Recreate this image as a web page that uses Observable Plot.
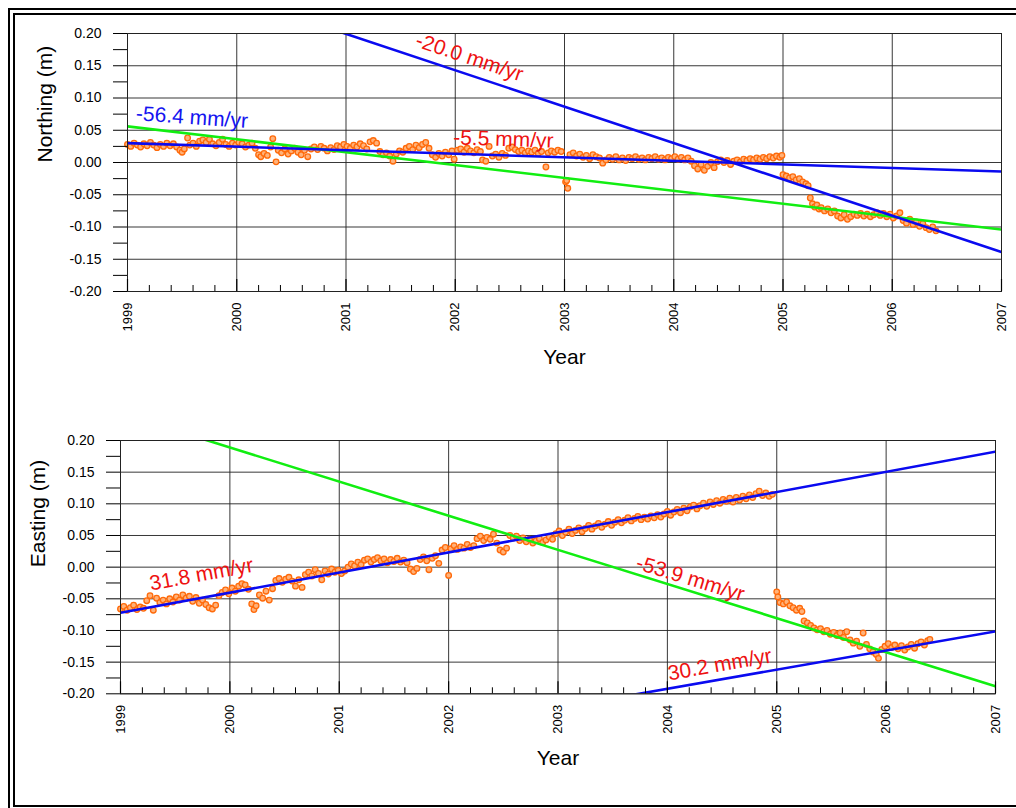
<!DOCTYPE html>
<html>
<head>
<meta charset="utf-8">
<script src="https://cdn.jsdelivr.net/npm/d3@7"></script>
<script src="https://cdn.jsdelivr.net/npm/@observablehq/plot@0.6"></script>
<style>
  body { margin: 0; background: #fff; }
  #page { position: relative; width: 1016px; height: 808px; overflow: hidden; background: #fff;
          font-family: "Liberation Sans", Arial, Helvetica, sans-serif; }
  .rule { position: absolute; box-sizing: border-box; border: 2.5px solid #000; }
  #page svg { position: absolute; left: 0; }
</style>
</head>
<body>
<div id="page">
  <div class="rule" style="left:8px;top:8px;width:1100px;height:900px"></div>
  <div class="rule" style="left:12.5px;top:12.5px;width:1100px;height:794px"></div>
</div>
<script>
// Axis ticks
const years = [1999, 2000, 2001, 2002, 2003, 2004, 2005, 2006, 2007];
const valueTicks = [-0.20, -0.15, -0.10, -0.05, 0.00, 0.05, 0.10, 0.15, 0.20];
const valueMinorTicks = [-0.175, -0.125, -0.075, -0.025, 0.025, 0.075, 0.125, 0.175];
const yearFractions = [0.2, 0.4, 0.6, 0.8];

// GPS daily positions: [decimal year, metres]
const northing = [
  [1999.00,0.028],[1999.03,0.025],[1999.06,0.030],[1999.09,0.027],[1999.12,0.024],[1999.15,0.029],
  [1999.18,0.026],[1999.21,0.031],[1999.24,0.027],[1999.27,0.023],[1999.30,0.028],[1999.33,0.025],
  [1999.36,0.030],[1999.39,0.026],[1999.42,0.029],[1999.45,0.024],[1999.48,0.019],[1999.50,0.016],
  [1999.52,0.021],[1999.55,0.038],[1999.57,0.027],[1999.60,0.030],[1999.63,0.025],[1999.66,0.033],
  [1999.69,0.035],[1999.72,0.031],[1999.75,0.036],[1999.78,0.029],[1999.81,0.026],[1999.84,0.031],
  [1999.87,0.036],[1999.90,0.028],[1999.93,0.025],[1999.96,0.030],[1999.99,0.027],[2000.02,0.031],
  [2000.05,0.029],[2000.08,0.024],[2000.11,0.027],[2000.14,0.030],[2000.17,0.022],[2000.20,0.012],
  [2000.22,0.009],[2000.25,0.014],[2000.28,0.011],[2000.31,0.024],[2000.33,0.037],[2000.36,0.001],
  [2000.38,0.019],[2000.41,0.015],[2000.44,0.021],[2000.47,0.013],[2000.50,0.018],[2000.53,0.022],
  [2000.56,0.016],[2000.59,0.012],[2000.62,0.019],[2000.65,0.009],[2000.68,0.021],[2000.71,0.024],
  [2000.74,0.020],[2000.77,0.025],[2000.80,0.022],[2000.83,0.018],[2000.86,0.023],[2000.89,0.020],
  [2000.92,0.026],[2000.95,0.024],[2000.98,0.028],[2001.01,0.025],[2001.04,0.022],[2001.07,0.027],
  [2001.10,0.024],[2001.13,0.029],[2001.16,0.026],[2001.19,0.021],[2001.22,0.032],[2001.25,0.034],
  [2001.28,0.030],[2001.31,0.017],[2001.34,0.012],[2001.37,0.015],[2001.40,0.010],[2001.43,0.002],
  [2001.46,0.013],[2001.49,0.018],[2001.52,0.016],[2001.55,0.022],[2001.58,0.025],[2001.61,0.020],
  [2001.64,0.027],[2001.67,0.023],[2001.70,0.028],[2001.73,0.031],[2001.76,0.022],[2001.79,0.012],
  [2001.82,0.008],[2001.85,0.014],[2001.88,0.010],[2001.91,0.016],[2001.94,0.012],[2001.97,0.018],
  [2001.99,0.005],[2002.02,0.019],[2002.05,0.021],[2002.08,0.016],[2002.11,0.022],[2002.14,0.018],
  [2002.17,0.015],[2002.20,0.020],[2002.23,0.017],[2002.25,0.004],[2002.28,0.002],[2002.31,0.025],
  [2002.34,0.010],[2002.37,0.013],[2002.40,0.008],[2002.43,0.014],[2002.46,0.011],[2002.49,0.022],
  [2002.52,0.024],[2002.55,0.020],[2002.58,0.017],[2002.61,0.019],[2002.64,0.015],[2002.67,0.018],
  [2002.70,0.016],[2002.73,0.019],[2002.76,0.014],[2002.79,0.017],[2002.83,-0.007],[2002.85,0.015],
  [2002.88,0.018],[2002.91,0.016],[2002.94,0.019],[2002.97,0.017],[2003.01,-0.030],[2003.02,-0.028],
  [2003.03,-0.040],[2003.05,0.012],[2003.08,0.015],[2003.11,0.010],[2003.14,0.013],[2003.17,0.008],
  [2003.20,0.011],[2003.23,0.006],[2003.26,0.012],[2003.29,0.009],[2003.32,0.007],[2003.35,-0.001],
  [2003.38,0.004],[2003.41,0.008],[2003.44,0.005],[2003.47,0.009],[2003.50,0.004],[2003.53,0.007],
  [2003.56,0.003],[2003.59,0.008],[2003.62,0.006],[2003.65,0.009],[2003.68,0.005],[2003.71,0.007],
  [2003.74,0.004],[2003.77,0.008],[2003.80,0.006],[2003.83,0.009],[2003.86,0.005],[2003.89,0.007],
  [2003.92,0.004],[2003.95,0.008],[2003.98,0.006],[2004.01,0.009],[2004.04,0.005],[2004.07,0.008],
  [2004.10,0.004],[2004.13,0.007],[2004.16,0.002],[2004.19,-0.005],[2004.22,-0.010],[2004.25,-0.003],
  [2004.28,-0.012],[2004.31,-0.006],[2004.34,0.000],[2004.37,-0.008],[2004.40,0.001],[2004.43,0.004],
  [2004.46,0.000],[2004.49,0.003],[2004.52,-0.003],[2004.55,0.002],[2004.58,0.004],[2004.61,0.001],
  [2004.64,0.005],[2004.67,0.003],[2004.70,0.006],[2004.73,0.004],[2004.76,0.007],[2004.79,0.005],
  [2004.82,0.008],[2004.85,0.006],[2004.88,0.009],[2004.91,0.007],[2004.94,0.010],[2004.97,0.008],
  [2004.99,0.011],[2005.00,-0.019],[2005.03,-0.021],[2005.06,-0.024],[2005.09,-0.022],[2005.12,-0.027],
  [2005.15,-0.025],[2005.18,-0.030],[2005.21,-0.033],[2005.23,-0.036],[2005.25,-0.055],[2005.27,-0.064],
  [2005.29,-0.069],[2005.31,-0.066],[2005.33,-0.072],[2005.35,-0.070],[2005.38,-0.075],[2005.41,-0.072],
  [2005.44,-0.078],[2005.47,-0.075],[2005.50,-0.083],[2005.53,-0.086],[2005.56,-0.081],[2005.59,-0.088],
  [2005.62,-0.084],[2005.65,-0.080],[2005.68,-0.082],[2005.71,-0.079],[2005.74,-0.083],[2005.77,-0.080],
  [2005.80,-0.084],[2005.83,-0.081],[2005.86,-0.078],[2005.89,-0.082],[2005.92,-0.079],[2005.95,-0.084],
  [2005.98,-0.080],[2006.01,-0.086],[2006.04,-0.083],[2006.07,-0.078],[2006.10,-0.090],[2006.13,-0.094],
  [2006.16,-0.088],[2006.19,-0.096],[2006.22,-0.092],[2006.25,-0.099],[2006.28,-0.095],[2006.31,-0.101],
  [2006.34,-0.104],[2006.37,-0.100],[2006.40,-0.106]
];

const easting = [
  [1999.00,-0.066],[1999.03,-0.062],[1999.06,-0.068],[1999.09,-0.064],[1999.12,-0.060],[1999.15,-0.067],
  [1999.18,-0.063],[1999.21,-0.065],[1999.24,-0.053],[1999.27,-0.045],[1999.30,-0.068],[1999.33,-0.049],
  [1999.36,-0.056],[1999.39,-0.052],[1999.42,-0.058],[1999.45,-0.050],[1999.48,-0.055],[1999.51,-0.047],
  [1999.54,-0.052],[1999.57,-0.044],[1999.60,-0.049],[1999.63,-0.046],[1999.66,-0.054],[1999.69,-0.048],
  [1999.72,-0.057],[1999.75,-0.052],[1999.78,-0.059],[1999.81,-0.064],[1999.84,-0.066],[1999.87,-0.060],
  [1999.90,-0.045],[1999.93,-0.040],[1999.96,-0.036],[1999.99,-0.042],[2000.02,-0.033],[2000.05,-0.038],
  [2000.08,-0.030],[2000.11,-0.026],[2000.14,-0.028],[2000.17,-0.035],[2000.20,-0.058],[2000.22,-0.067],
  [2000.24,-0.061],[2000.27,-0.044],[2000.30,-0.049],[2000.33,-0.038],[2000.36,-0.052],[2000.39,-0.034],
  [2000.42,-0.021],[2000.45,-0.018],[2000.48,-0.024],[2000.51,-0.019],[2000.54,-0.016],[2000.57,-0.022],
  [2000.60,-0.030],[2000.63,-0.020],[2000.66,-0.032],[2000.69,-0.012],[2000.72,-0.008],[2000.75,-0.014],
  [2000.78,-0.004],[2000.81,-0.010],[2000.84,-0.020],[2000.87,-0.006],[2000.90,-0.011],[2000.93,-0.003],
  [2000.96,-0.008],[2000.99,-0.005],[2001.02,-0.010],[2001.05,-0.006],[2001.08,0.000],[2001.11,0.005],
  [2001.14,0.002],[2001.17,0.008],[2001.20,0.004],[2001.23,0.011],[2001.26,0.013],[2001.29,0.008],
  [2001.32,0.012],[2001.35,0.015],[2001.38,0.010],[2001.41,0.013],[2001.44,0.007],[2001.47,0.012],
  [2001.50,0.009],[2001.53,0.014],[2001.56,0.008],[2001.59,0.011],[2001.62,0.007],[2001.65,-0.003],
  [2001.68,-0.007],[2001.71,-0.002],[2001.74,0.012],[2001.77,0.016],[2001.80,0.010],[2001.82,-0.004],
  [2001.85,0.014],[2001.88,0.018],[2001.91,0.006],[2001.94,0.027],[2001.97,0.031],[2002.00,-0.013],
  [2002.02,0.029],[2002.05,0.034],[2002.08,0.028],[2002.11,0.032],[2002.14,0.030],[2002.17,0.036],
  [2002.20,0.031],[2002.23,0.034],[2002.26,0.045],[2002.29,0.049],[2002.32,0.042],[2002.35,0.047],
  [2002.38,0.044],[2002.41,0.052],[2002.44,0.038],[2002.47,0.027],[2002.50,0.024],[2002.53,0.030],
  [2002.56,0.050],[2002.59,0.046],[2002.62,0.049],[2002.65,0.042],[2002.68,0.046],[2002.71,0.040],
  [2002.74,0.044],[2002.77,0.038],[2002.80,0.042],[2002.83,0.045],[2002.86,0.039],[2002.89,0.043],
  [2002.92,0.048],[2002.95,0.044],[2002.98,0.053],[2003.01,0.057],[2003.04,0.050],[2003.07,0.055],
  [2003.10,0.060],[2003.13,0.053],[2003.16,0.058],[2003.19,0.062],[2003.22,0.056],[2003.25,0.061],
  [2003.28,0.066],[2003.31,0.060],[2003.34,0.065],[2003.37,0.069],[2003.40,0.063],[2003.43,0.068],
  [2003.46,0.072],[2003.49,0.066],[2003.52,0.071],[2003.55,0.075],[2003.58,0.070],[2003.61,0.074],
  [2003.64,0.078],[2003.67,0.073],[2003.70,0.077],[2003.73,0.080],[2003.76,0.075],[2003.79,0.079],
  [2003.82,0.076],[2003.85,0.081],[2003.88,0.078],[2003.91,0.083],[2003.94,0.079],[2003.97,0.084],
  [2004.00,0.088],[2004.03,0.082],[2004.06,0.087],[2004.09,0.091],[2004.12,0.086],[2004.15,0.093],
  [2004.18,0.089],[2004.21,0.095],[2004.24,0.098],[2004.27,0.092],[2004.30,0.097],[2004.33,0.101],
  [2004.36,0.096],[2004.39,0.103],[2004.42,0.099],[2004.45,0.105],[2004.48,0.101],[2004.51,0.107],
  [2004.54,0.104],[2004.57,0.109],[2004.60,0.103],[2004.63,0.110],[2004.66,0.106],[2004.69,0.112],
  [2004.72,0.108],[2004.75,0.114],[2004.78,0.110],[2004.81,0.116],[2004.84,0.120],[2004.87,0.113],
  [2004.90,0.117],[2004.93,0.112],[2004.96,0.115],[2005.00,-0.039],[2005.01,-0.047],[2005.03,-0.056],
  [2005.06,-0.058],[2005.09,-0.055],[2005.12,-0.061],[2005.15,-0.064],[2005.18,-0.068],[2005.21,-0.065],
  [2005.23,-0.070],[2005.25,-0.085],[2005.28,-0.088],[2005.31,-0.092],[2005.34,-0.096],[2005.37,-0.099],
  [2005.40,-0.097],[2005.43,-0.102],[2005.46,-0.100],[2005.49,-0.106],[2005.52,-0.103],[2005.55,-0.108],
  [2005.58,-0.104],[2005.61,-0.111],[2005.64,-0.102],[2005.67,-0.115],[2005.70,-0.120],[2005.73,-0.117],
  [2005.76,-0.125],[2005.79,-0.104],[2005.82,-0.122],[2005.85,-0.129],[2005.88,-0.134],[2005.91,-0.138],
  [2005.93,-0.144],[2005.96,-0.130],[2005.99,-0.125],[2006.02,-0.121],[2006.05,-0.127],[2006.08,-0.123],
  [2006.11,-0.129],[2006.14,-0.124],[2006.17,-0.131],[2006.20,-0.126],[2006.23,-0.122],[2006.26,-0.128],
  [2006.29,-0.121],[2006.32,-0.118],[2006.35,-0.123],[2006.38,-0.116],[2006.40,-0.114]
];

// Linear trends: rate in mm/yr, passing through (t0, v0)
const northTrends = [
  {rate: -20.0, t0: 2003.0, v0: -0.024, stroke: "#11ee11"},
  {rate: -56.4, t0: 2004.5, v0: 0.002, stroke: "#0a0af0"},
  {rate: -5.5,  t0: 2003.0, v0: 0.008, stroke: "#0a0af0"}
];
const eastTrends = [
  {rate: 31.8,  t0: 2003.0, v0: 0.0551, stroke: "#0a0af0"},
  {rate: -53.9, t0: 2005.0, v0: -0.0805, stroke: "#11ee11"},
  {rate: 30.2,  t0: 2006.0, v0: -0.1317, stroke: "#0a0af0"}
];

// Rate annotations
const northLabels = [
  {rate: -56.4, t: 1999.59, v: 0.070, angle: 4,    fill: "#1414f0"},
  {rate: -20.0, t: 2002.13, v: 0.163, angle: 18.5, fill: "#ee1111"},
  {rate: -5.5,  t: 2002.44, v: 0.036, angle: 2,    fill: "#ee1111"}
];
const eastLabels = [
  {rate: 31.8,  t: 1999.74, v: -0.0115, angle: -10.5, fill: "#ee1111"},
  {rate: -53.9, t: 2004.21, v: -0.018,  angle: 17,    fill: "#ee1111"},
  {rate: 30.2,  t: 2004.48, v: -0.154,  angle: -10,   fill: "#ee1111"}
];

const yearMinorTicks = years.slice(0, -1).flatMap(y => yearFractions.map(f => y + f));
const font = '"Liberation Sans", Arial, Helvetica, sans-serif';

function trendLine(tr) {
  return [1999, 2007].map(t => ({t, v: tr.v0 + tr.rate / 1000 * (t - tr.t0)}));
}

function panel({data, trends, labels, title, top, height, marginLeft, marginRight, marginTop, marginBottom, titleDy}) {
  const plotH = height - marginTop - marginBottom;
  const svg = Plot.plot({
    width: 1016, height, marginLeft, marginRight, marginTop, marginBottom,
    x: {domain: [1999, 2007]},
    y: {domain: [-0.2, 0.2]},
    style: {fontFamily: font, fontSize: "14px", color: "#000", background: "transparent", overflow: "visible"},
    marks: [
      Plot.gridX(years, {stroke: "#222", strokeOpacity: 0.9, strokeWidth: 1}),
      Plot.gridY(valueTicks, {stroke: "#222", strokeOpacity: 0.9, strokeWidth: 1}),
      Plot.dot(data, {x: d => d[0], y: d => d[1], r: 2.8, stroke: "#ff6a0a", fill: "#ffb27a", strokeWidth: 1.3}),
      ...trends.map(tr => Plot.line(trendLine(tr), {x: "t", y: "v", stroke: tr.stroke, strokeWidth: 2.6, clip: true})),
      Plot.frame({stroke: "#222", strokeWidth: 1}),
      Plot.ruleX(yearMinorTicks, {insetTop: plotH - 6, stroke: "#000", strokeWidth: 1}),
      Plot.ruleX(years, {insetTop: plotH - 12, stroke: "#000", strokeWidth: 1.2}),
      Plot.axisY(valueTicks, {tickSize: 14, tickPadding: 12, tickFormat: d => d.toFixed(2), fontSize: 14, label: null}),
      Plot.axisY(valueMinorTicks, {tickSize: 14, tickFormat: () => "", label: null}),
      Plot.axisX(years, {tickSize: 0, tickPadding: 11, tickRotate: -90, tickFormat: d => String(d), fontSize: 13, label: null}),
      Plot.text(["Year"], {text: d => d, frameAnchor: "bottom", dy: titleDy, fontSize: 21}),
      Plot.text([title], {text: d => d, frameAnchor: "left", dx: -82, rotate: -90, fontSize: 21}),
      ...labels.map(l => Plot.text([l], {
        x: "t", y: "v", text: d => d.rate.toFixed(1) + " mm/yr",
        rotate: l.angle, fill: l.fill, fontSize: 21
      }))
    ]
  });
  svg.style.top = top + "px";
  document.getElementById("page").appendChild(svg);
}

panel({data: northing, trends: northTrends, labels: northLabels, title: "Northing (m)", titleDy: 72,
       top: 0, height: 400, marginLeft: 127, marginRight: 15, marginTop: 33, marginBottom: 109});
panel({data: easting, trends: eastTrends, labels: eastLabels, title: "Easting (m)", titleDy: 71,
       top: 400, height: 408, marginLeft: 120, marginRight: 21, marginTop: 40, marginBottom: 114.7});
</script>
</body>
</html>
